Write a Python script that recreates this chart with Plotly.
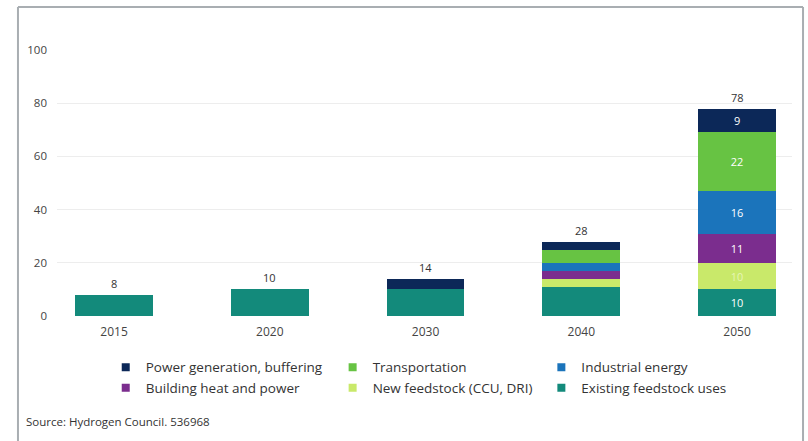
import plotly.graph_objects as go

years = ["2015", "2020", "2030", "2040", "2050"]

existing_feedstock = [8, 10, 10, 11, 10]
new_feedstock = [0, 0, 0, 3, 10]
building_heat = [0, 0, 0, 3, 11]
industrial_energy = [0, 0, 0, 3, 16]
transportation = [0, 0, 0, 5, 22]
power_generation = [0, 0, 4, 3, 9]

totals = [8, 10, 14, 28, 78]
labelled_year = "2050"

series = [
    ("Existing feedstock uses", existing_feedstock, "#138a7b", "white", "legend3"),
    ("New feedstock (CCU, DRI)", new_feedstock, "#c9e96a", "#e6f5b4", "legend2"),
    ("Building heat and power", building_heat, "#7b2d8e", "white", "legend"),
    ("Industrial energy", industrial_energy, "#1b74bb", "white", "legend3"),
    ("Transportation", transportation, "#67c343", "white", "legend2"),
    ("Power generation, buffering", power_generation, "#0c2858", "white", "legend"),
]

FONT = "Open Sans, Noto Sans, sans-serif"

fig = go.Figure()
for name, vals, color, tcolor, lg in series:
    texts = [str(v) if (y == labelled_year and v) else "" for y, v in zip(years, vals)]
    fig.add_trace(go.Bar(
        x=years, y=vals, name=name, marker=dict(color=color, line=dict(width=0)),
        text=texts, textposition="inside", insidetextanchor="middle",
        textfont=dict(color=tcolor, size=11, family=FONT),
        showlegend=False, hoverinfo="x+y+name",
    ))
    # legend entry with a small square key
    fig.add_trace(go.Scatter(
        x=[None], y=[None], mode="markers", name=name, legend=lg,
        marker=dict(symbol="square", size=8, color=color), hoverinfo="skip",
    ))

for i, t in enumerate(totals):
    fig.add_annotation(x=i, y=t, text=str(t), showarrow=False, yanchor="bottom",
                       yshift=2, font=dict(size=11, color="#333333", family=FONT))

fig.add_annotation(xref="paper", yref="paper", x=-0.045, y=-0.395, xanchor="left",
                   yanchor="middle", showarrow=False,
                   text="Source: Hydrogen Council. 536968",
                   font=dict(size=11.5, color="#333333", family=FONT))

# outer frame (left, top, right)
border = dict(color="#a9aeb2", width=2)
fig.add_shape(type="line", xref="paper", yref="paper", x0=-0.0531, x1=-0.0531, y0=1.162, y1=-0.5, line=border)
fig.add_shape(type="line", xref="paper", yref="paper", x0=-0.0531, x1=1.015, y0=1.162, y1=1.162, line=border)
fig.add_shape(type="line", xref="paper", yref="paper", x0=1.015, x1=1.015, y0=1.162, y1=-0.5, line=border)

legend_common = dict(orientation="v", yanchor="top", xanchor="left", traceorder="reversed",
                     font=dict(size=13.5, color="#333333", family=FONT),
                     bgcolor="rgba(0,0,0,0)", itemwidth=30, tracegroupgap=0, itemclick=False)
ly = -0.135
fig.update_layout(
    width=808, height=441,
    margin=dict(l=57, r=16, t=50, b=125),
    paper_bgcolor="white", plot_bgcolor="white",
    barmode="stack", bargap=0.5,
    font=dict(family=FONT),
    showlegend=True,
    legend=dict(x=0.0663, y=ly, **legend_common),
    legend2=dict(x=0.375, y=ly, **legend_common),
    legend3=dict(x=0.659, y=ly, **legend_common),
    xaxis=dict(type="category", range=[-0.366, 4.353], showgrid=False, zeroline=False,
               showline=False, ticks="", ticklabelstandoff=7,
               tickfont=dict(size=12, color="#444444", family=FONT)),
    yaxis=dict(range=[0, 100], tickvals=[0, 20, 40, 60, 80, 100], showgrid=True,
               gridcolor="#ededed", gridwidth=1, zeroline=False, showline=False,
               ticks="", ticklabelstandoff=9,
               tickfont=dict(size=11.5, color="#444444", family=FONT)),
)

fig.write_html("out.html")
